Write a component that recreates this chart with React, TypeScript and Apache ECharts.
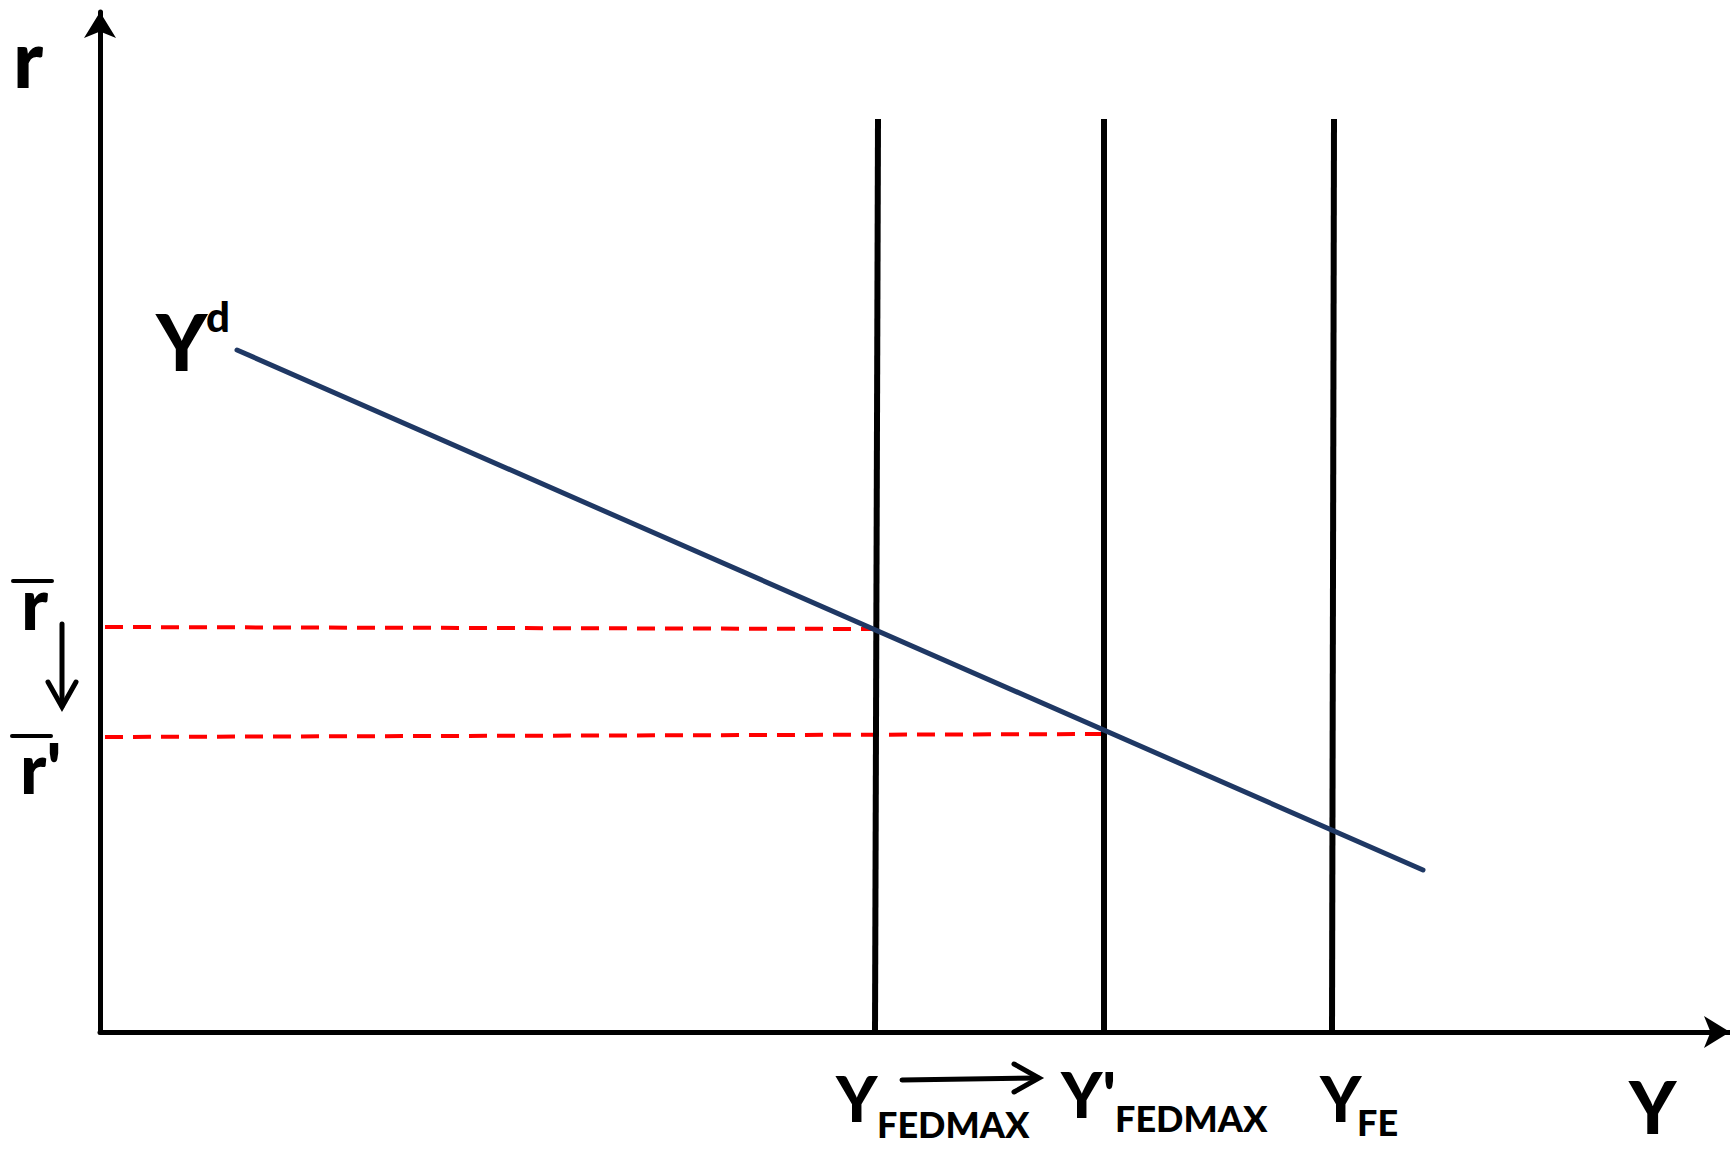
import React, { useEffect, useRef } from "react";
import * as echarts from "echarts";

// Data (x: output Y, y: interest rate r), arbitrary units
const yFedMax = [[77.5, 0], [77.8, 91.3]];
const yFedMaxPrime = [[100.4, 0], [100.4, 91.3]];
const yFE = [[123.2, 0], [123.4, 91.3]];
const yDemand = [[13.7, 68.2], [132.3, 16.2]];
const rBar = [[0.5, 40.5], [77.5, 40.3]];
const rBarPrime = [[0.5, 29.5], [100.4, 29.8]];

const FONT = "Lato";

export default function App() {
  const ref = useRef<HTMLDivElement>(null);
  useEffect(() => {
    if (!ref.current) return;
    const chart = echarts.init(ref.current, undefined, { renderer: "svg" });
    const black = "#000000";
    const vline = (data: number[][]) => ({
      type: "line",
      data,
      symbol: "none",
      lineStyle: { color: black, width: 6 },
      silent: true,
    });
    const txt = (text: string, x: number, y: number, size: number) => ({
      type: "text",
      x,
      y,
      style: {
        text,
        fontFamily: FONT,
        fontWeight: 900,
        fontSize: size,
        lineHeight: size,
        fill: black,
        align: "left",
        verticalAlign: "middle",
      },
    });
    const seg = (x1: number, y1: number, x2: number, y2: number, w = 5) => ({
      type: "line",
      shape: { x1, y1, x2, y2 },
      style: { stroke: black, lineWidth: w, lineCap: "round" },
    });
    const chevron = (pts: number[][]) => ({
      type: "polyline",
      shape: { points: pts },
      style: { stroke: black, lineWidth: 5, fill: "none", lineCap: "round", lineJoin: "miter" },
    });
    chart.setOption({
      animation: false,
      backgroundColor: "#ffffff",
      grid: { left: 100, right: 0, top: 12, bottom: 117 },
      xAxis: {
        type: "value",
        min: 0,
        max: 163,
        axisLine: {
          onZero: false,
          lineStyle: { color: black, width: 5 },
          symbol: ["none", "arrow"],
          symbolSize: [24, 26],
        },
        axisTick: { show: false },
        axisLabel: { show: false },
        splitLine: { show: false },
      },
      yAxis: {
        type: "value",
        min: 0,
        max: 102,
        axisLine: {
          onZero: false,
          show: true,
          lineStyle: { color: black, width: 5 },
          symbol: ["none", "arrow"],
          symbolSize: [24, 26],
        },
        axisTick: { show: false },
        axisLabel: { show: false },
        splitLine: { show: false },
      },
      series: [
        {
          type: "line",
          data: rBar,
          symbol: "none",
          lineStyle: { color: "#ff0000", width: 4, type: [18, 10] },
          silent: true,
        },
        {
          type: "line",
          data: rBarPrime,
          symbol: "none",
          lineStyle: { color: "#ff0000", width: 4, type: [18, 10] },
          silent: true,
        },
        vline(yFedMax),
        vline(yFedMaxPrime),
        vline(yFE),
        {
          type: "line",
          data: yDemand,
          symbol: "none",
          lineStyle: { color: "#1f3864", width: 5, cap: "round" },
          silent: true,
        },
      ],
      graphic: [
        txt("r", 13, 57, 80),
        // r bar
        seg(13, 581, 52, 581, 4),
        txt("r", 21, 602, 72),
        // down arrow
        seg(62, 624, 62, 706),
        chevron([[48, 682], [62, 707], [76, 682]]),
        // r bar prime
        seg(12, 736, 51, 736, 4),
        txt("r'", 20, 767, 70),
        // Yd
        txt("Y", 156, 341, 78),
        txt("d", 206, 316, 42),
        // Y FEDMAX
        txt("Y", 836, 1097, 63),
        txt("FEDMAX", 877, 1124, 36),
        // shift arrow
        seg(902, 1080, 1038, 1078),
        chevron([[1014, 1064], [1039, 1078], [1014, 1092]]),
        // Y' FEDMAX
        txt("Y'", 1061, 1093, 63),
        txt("FEDMAX", 1115, 1118, 36),
        // Y FE
        txt("Y", 1320, 1097, 63),
        txt("FE", 1357, 1122, 36),
        // axis label Y
        txt("Y", 1629, 1106, 72),
      ],
    });
    return () => chart.dispose();
  }, []);
  return (
    <div
      ref={ref}
      style={{ position: "absolute", left: 0, top: 0, width: 1730, height: 1149, background: "#fff" }}
    />
  );
}
